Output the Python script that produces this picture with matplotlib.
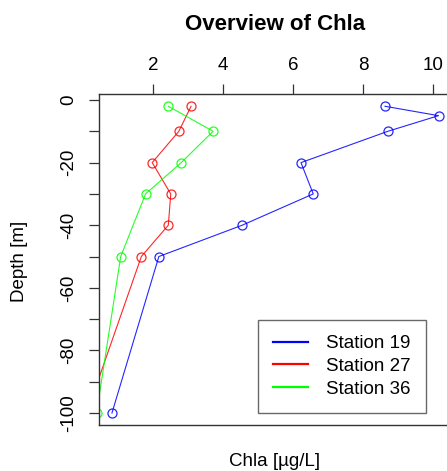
import matplotlib
matplotlib.use("Agg")
import matplotlib.pyplot as plt
from matplotlib.lines import Line2D
import numpy as np

plt.rcParams['font.family'] = ['Liberation Sans', 'DejaVu Sans']

# Chla [ug/L] gegen Tiefe [m] pro Station
depth_19 = [-2, -5, -10, -20, -30, -40, -50, -100]
chla_19 = [8.62, 10.15, 8.70, 6.22, 6.57, 4.54, 2.16, 0.82]

depth_27 = [-2, -10, -20, -30, -40, -50, -100]
chla_27 = [3.08, 2.73, 1.97, 2.50, 2.43, 1.66, 0.10]

depth_36 = [-2, -10, -20, -30, -50, -100]
chla_36 = [2.43, 3.71, 2.80, 1.78, 1.07, 0.38]

stations = ["Station 19", "Station 27", "Station 36"]
colors = ["#0000FF", "#FF0000", "#00FF00"]

x_ticks = [2, 4, 6, 8, 10]
y_ticks = np.arange(0, -101, -10)

W, H = 447, 471
fig = plt.figure(figsize=(W / 100, H / 100), dpi=100)
# rechte Rahmenlinie liegt knapp ausserhalb des Bildes (wie im Original)
ax = fig.add_axes([99 / W, (H - 425.3) / H, 352.5 / W, 331.3 / H])

for x, d, c in zip([chla_19, chla_27, chla_36], [depth_19, depth_27, depth_36], colors):
    ax.plot(x, d, color=c, lw=0.8, marker='o', ms=6.5, mfc='none', mec=c, mew=0.9,
            alpha=0.85)

# R-artige Achsengrenzen (4% Rand)
ax.set_xlim(0.45, 10.52)
ax.set_ylim(-103.92, 1.92)

ax.xaxis.tick_top()
ax.set_xticks(x_ticks)
ax.set_xticklabels([str(t) for t in x_ticks])
ax.set_yticks(y_ticks)
ax.set_yticklabels([str(int(t)) if t % 20 == 0 else "" for t in y_ticks],
                   rotation=90, va='center')
ax.tick_params(axis='x', length=7.5, width=0.9, color='#333333', labelsize=13.5, pad=7)
ax.tick_params(axis='y', length=7.5, width=0.9, color='#333333', labelsize=13.5, pad=8)
for s in ax.spines.values():
    s.set_color('#333333')
    s.set_linewidth(1.0)

fig.text(275 / W, 1 - 25 / H, "Overview of Chla", ha='center', va='center',
         fontsize=16, fontweight='bold')
fig.text(275 / W, 1 - 462 / H, "Chla [\u00b5g/L]", ha='center', va='center', fontsize=13.5)
fig.text(20 / W, 1 - 261 / H, "Depth [m]", ha='center', va='center', fontsize=13.5,
         rotation=90)

handles = [Line2D([], [], color=c, lw=1.6) for c in colors]
leg = ax.legend(handles, stations, loc='upper left',
                bbox_to_anchor=(258 / W, 1 - 320 / H), bbox_transform=fig.transFigure,
                fontsize=13.5, frameon=True, fancybox=False, borderpad=0.8,
                handlelength=1.85, handletextpad=1.0, labelspacing=0.3,
                borderaxespad=0)
leg.get_frame().set_edgecolor('#444444')
leg.get_frame().set_linewidth(1.0)

fig.savefig("out.png", dpi=100)
